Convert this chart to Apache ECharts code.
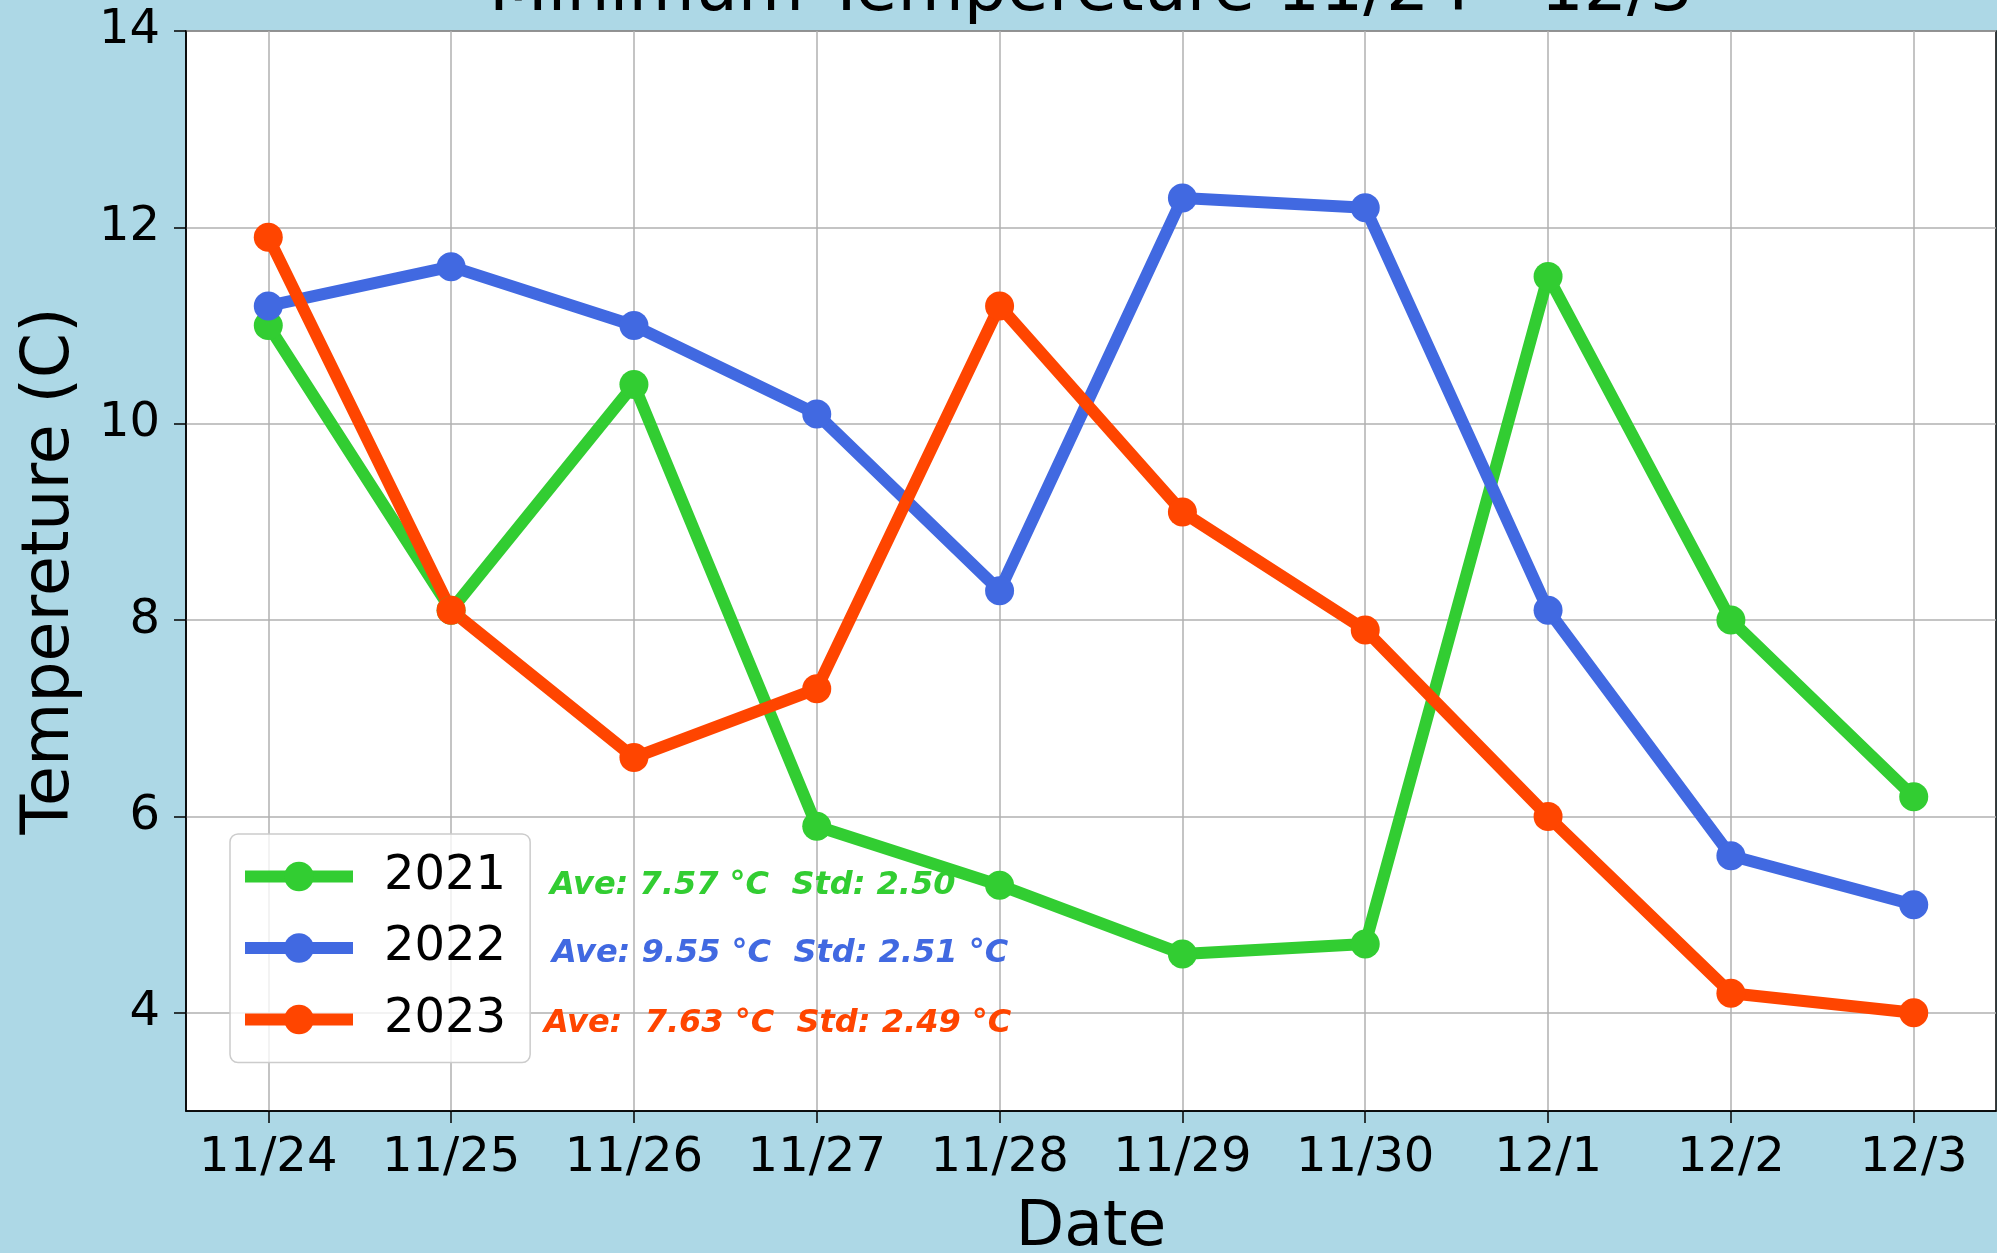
<!DOCTYPE html>
<html>
<head>
<meta charset="utf-8">
<script src="https://cdn.jsdelivr.net/npm/echarts@6/dist/echarts.min.js"></script>
<style>
  html, body { margin: 0; padding: 0; background: #ADD8E6; }
  #chart { width: 1997px; height: 1253px; }
</style>
</head>
<body>
<div id="chart"></div>
<script>
// data
var dates = ['11/24', '11/25', '11/26', '11/27', '11/28', '11/29', '11/30', '12/1', '12/2', '12/3'];
var years = ['2021', '2022', '2023'];
var t2021 = [11.0, 8.1, 10.4, 5.9, 5.3, 4.6, 4.7, 11.5, 8.0, 6.2];
var t2022 = [11.2, 11.6, 11.0, 10.1, 8.3, 12.3, 12.2, 8.1, 5.6, 5.1];
var t2023 = [11.9, 8.1, 6.6, 7.3, 11.2, 9.1, 7.9, 6.0, 4.2, 4.0];
var yTicks = [4, 6, 8, 10, 12, 14];
var statTexts = [
    'Ave: 7.57 °C  Std: 2.50',
    'Ave: 9.55 °C  Std: 2.51 °C',
    'Ave:  7.63 °C  Std: 2.49 °C'
];

(function(){
    var myChart = echarts.init(document.getElementById('chart'));
    var colors = ['#32CD32', '#4169E1', '#FF4500'];
    var allSeries = [t2021, t2022, t2023];
    var xTicks = dates.map(function (d, i) { return i; });
    var font = 'DejaVu Sans';

    var series = allSeries.map(function (vals, k) {
        return {
            name: years[k],
            type: 'line',
            data: vals.map(function (v, i) { return [i, v]; }),
            symbol: 'circle',
            symbolSize: 29,
            showAllSymbol: true,
            lineStyle: { width: 12, color: colors[k] },
            itemStyle: { color: colors[k] },
            emphasis: { disabled: true }
        };
    });

    // stat text, left x and centre y in px
    var statPos = [[550, 886], [552, 954], [544, 1024]];
    var graphics = [{
        type: 'text',
        x: 1091, y: -8,
        z: 100,
        style: {
            text: 'Minimum Tempereture 11/24 - 12/3',
            fill: '#000',
            font: '68px "DejaVu Sans"',
            align: 'center', verticalAlign: 'middle',
            textAlign: 'center', textVerticalAlign: 'middle'
        }
    }];
    statTexts.forEach(function (t, k) {
        graphics.push({
            type: 'text',
            x: statPos[k][0], y: statPos[k][1],
            z: 100,
            style: {
                text: t,
                fill: colors[k],
                font: 'italic bold 32px "DejaVu Sans"',
                align: 'left', verticalAlign: 'middle',
                textAlign: 'left', textVerticalAlign: 'middle'
            }
        });
    });

    option = {
        animation: false,
        backgroundColor: '#ADD8E6',
        textStyle: { fontFamily: font },
        grid: {
            left: 186, right: 1, top: 31, bottom: 142,
            show: true,
            backgroundColor: '#ffffff',
            borderColor: '#000000',
            borderWidth: 1.5,
            outerBoundsMode: 'none'
        },
        legend: {
            data: years,
            orient: 'vertical',
            left: 230,
            top: 834,
            itemWidth: 108,
            itemHeight: 37,
            itemGap: 23.5,
            padding: [18.5, 24, 19, 9],
            backgroundColor: 'rgba(255,255,255,0.8)',
            borderColor: '#cccccc',
            borderWidth: 1.5,
            borderRadius: 8,
            lineStyle: { width: 12 },
            textStyle: { fontSize: 48, color: '#000', fontFamily: font, padding: [0, 0, 0, 26] }
        },
        xAxis: {
            type: 'value',
            min: -0.45,
            max: 9.45,
            name: 'Date',
            nameLocation: 'middle',
            nameGap: 86,
            nameTextStyle: { fontSize: 63, color: '#000' },
            axisLine: { onZero: false, lineStyle: { color: '#000', width: 1.5 } },
            axisTick: { customValues: xTicks, length: 12, lineStyle: { color: '#000', width: 1.5 } },
            axisLabel: {
                customValues: xTicks,
                margin: 24,
                fontSize: 48,
                color: '#000',
                formatter: function (v) { return dates[Math.round(v)]; }
            },
            splitLine: { show: true, lineStyle: { color: '#b0b0b0', width: 1.5 } }
        },
        yAxis: {
            type: 'value',
            min: 3,
            max: 14,
            name: 'Tempereture (C)',
            nameLocation: 'middle',
            nameRotate: 90,
            nameGap: 102,
            nameTextStyle: { fontSize: 65, color: '#000' },
            axisLine: { show: true, onZero: false, lineStyle: { color: '#000', width: 1.5 } },
            axisTick: { show: true, customValues: yTicks, length: 12, lineStyle: { color: '#000', width: 1.5 } },
            axisLabel: { customValues: yTicks, margin: 26, fontSize: 48, color: '#000' },
            splitLine: { show: true, lineStyle: { color: '#b0b0b0', width: 1.5 } }
        },
        graphic: graphics,
        series: series
    };

    myChart.setOption(option);
})();
</script>
</body>
</html>
